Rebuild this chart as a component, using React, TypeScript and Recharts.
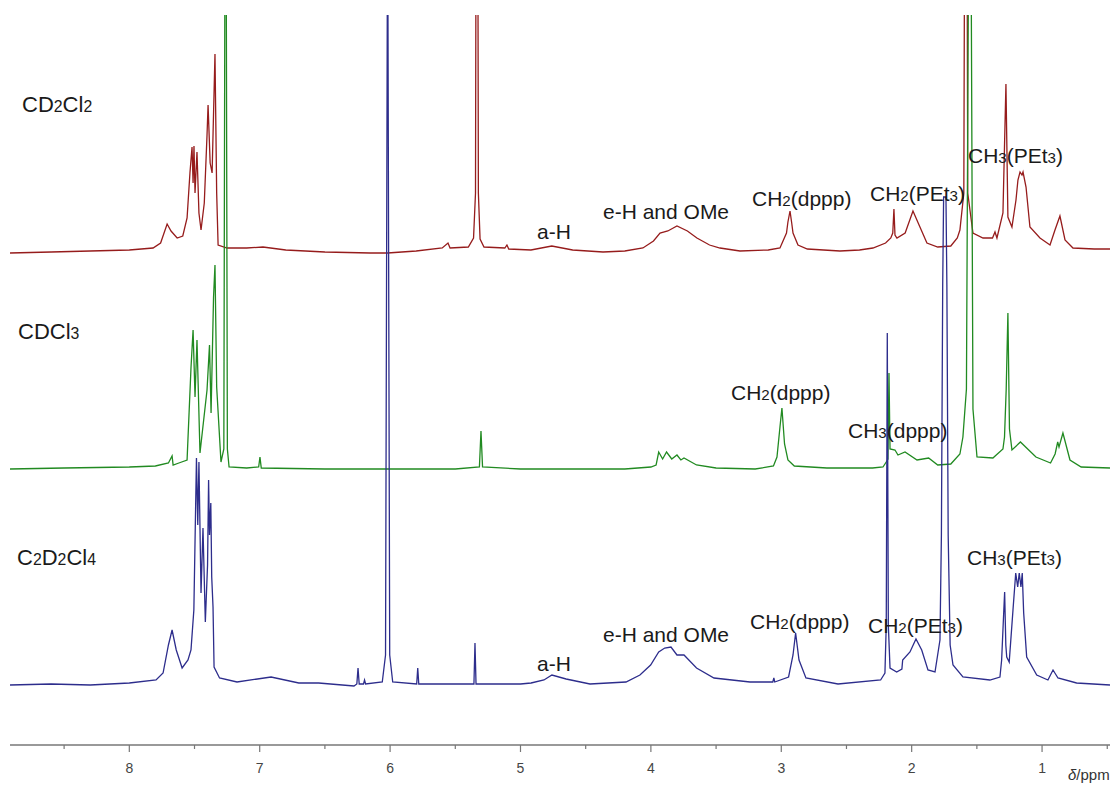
import React from 'react';
import { LineChart, Line, XAxis, YAxis } from 'recharts';

// chemical shift (ppm) / signal height, baseline = 0
const cd2cl2: [number, number][] = [
  [8.915, 0], [8.6, 1], [8.3, 2], [8.0, 3], [7.818, 5], [7.76, 10], [7.71, 29], [7.68, 22],
  [7.633, 15], [7.59, 17], [7.557, 35], [7.535, 80], [7.519, 106], [7.511, 70], [7.504, 107],
  [7.496, 60], [7.481, 101], [7.466, 40], [7.45, 23], [7.425, 50], [7.404, 118], [7.396, 148],
  [7.38, 90], [7.365, 80], [7.343, 199], [7.33, 60], [7.319, 8], [7.25, 5], [7.1, 5],
  [6.975, 6], [6.8, 3], [6.5, 1], [6.154, 0], [6.02, 0], [5.8, 2], [5.6, 5], [5.556, 10],
  [5.54, 5], [5.4, 6], [5.36, 15], [5.345, 60], [5.334, 800], [5.323, 60], [5.31, 14],
  [5.28, 6], [5.12, 5], [5.104, 8], [5.09, 4], [4.92, 3], [4.76, 7], [4.6, 3], [4.367, 1],
  [4.2, 2], [4.061, 5], [3.98, 12], [3.93, 20], [3.87, 22], [3.8, 27], [3.72, 22],
  [3.647, 15], [3.55, 8], [3.47, 5], [3.317, 2], [3.1, 3], [3.01, 5], [2.96, 20],
  [2.949, 31], [2.933, 42], [2.92, 30], [2.91, 20], [2.872, 8], [2.8, 4], [2.55, 2],
  [2.4, 3], [2.297, 5], [2.2, 10], [2.16, 15], [2.145, 20], [2.136, 44], [2.128, 18],
  [2.113, 15], [2.05, 20], [1.99, 42], [1.95, 30], [1.883, 10], [1.8, 6], [1.7, 7],
  [1.65, 15], [1.63, 23], [1.6, 60], [1.584, 800], [1.57, 60], [1.53, 20], [1.453, 15],
  [1.38, 15], [1.361, 21], [1.346, 15], [1.3, 40], [1.277, 169], [1.262, 36], [1.231, 26],
  [1.2, 53], [1.185, 73], [1.169, 81], [1.154, 78], [1.146, 81], [1.123, 66], [1.093, 26],
  [1.016, 15], [0.939, 8], [0.901, 23], [0.863, 37], [0.824, 13], [0.763, 5], [0.6, 4],
  [0.479, 4],
];

const cdcl3: [number, number][] = [
  [8.915, 0], [8.5, 1], [8.0, 2], [7.8, 3], [7.7, 6], [7.672, 13], [7.664, 4], [7.62, 6],
  [7.557, 9], [7.527, 101], [7.511, 139], [7.496, 72], [7.481, 129], [7.458, 16],
  [7.404, 79], [7.385, 124], [7.373, 56], [7.354, 172], [7.343, 204], [7.33, 82],
  [7.297, 7], [7.275, 20], [7.262, 800], [7.248, 20], [7.235, 2], [7.1, 1], [7.008, 2],
  [6.998, 12], [6.988, 1], [6.5, 0], [6.0, 0], [5.5, 0], [5.315, 2], [5.303, 38],
  [5.291, 2], [5.0, 0], [4.5, 0], [4.2, 0], [4.0, 2], [3.96, 4], [3.94, 17], [3.91, 10],
  [3.88, 17], [3.84, 10], [3.8, 14], [3.77, 9], [3.746, 11], [3.65, 4], [3.5, 1],
  [3.2, 0], [3.06, 3], [3.033, 12], [3.01, 42], [2.995, 61], [2.975, 25], [2.949, 9],
  [2.9, 3], [2.65, 1], [2.3, 1], [2.22, 2], [2.19, 8], [2.182, 10], [2.174, 96],
  [2.166, 20], [2.128, 19], [2.105, 14], [2.051, 17], [1.959, 9], [1.87, 11], [1.8, 4],
  [1.7, 5], [1.63, 15], [1.607, 32], [1.58, 80], [1.553, 800], [1.53, 60], [1.499, 12],
  [1.377, 11], [1.3, 20], [1.288, 32], [1.275, 80], [1.262, 156], [1.25, 40], [1.231, 19],
  [1.166, 27], [1.047, 12], [0.935, 6], [0.9, 15], [0.88, 27], [0.87, 22], [0.84, 36],
  [0.786, 9], [0.7, 2], [0.479, 1],
];

const c2d2cl4: [number, number][] = [
  [8.915, 0], [8.6, 1], [8.3, 0], [8.0, 2], [7.795, 5], [7.741, 12], [7.7, 40],
  [7.672, 55], [7.64, 35], [7.595, 17], [7.55, 25], [7.527, 35], [7.505, 75],
  [7.485, 227], [7.475, 160], [7.466, 223], [7.45, 92], [7.435, 157], [7.417, 63],
  [7.4, 120], [7.392, 205], [7.385, 150], [7.375, 182], [7.368, 108], [7.358, 78],
  [7.35, 18], [7.308, 7], [7.174, 3], [6.913, 8], [6.7, 2], [6.548, 2], [6.277, -1],
  [6.255, 1], [6.246, 17], [6.237, 1], [6.204, 1], [6.196, 5], [6.188, 1], [6.06, 3],
  [6.035, 30], [6.019, 800], [6.003, 30], [5.98, 3], [5.796, 1], [5.788, 17], [5.78, 1],
  [5.357, 1], [5.349, 42], [5.341, 1], [5.0, 1], [4.919, 2], [4.82, 5], [4.759, 10],
  [4.65, 6], [4.467, 1], [4.191, 3], [4.084, 10], [4.002, 20], [3.94, 33], [3.894, 37],
  [3.846, 38], [3.8, 30], [3.746, 30], [3.65, 17], [3.516, 7], [3.24, 3], [3.065, 3],
  [3.057, 7], [3.05, 3], [2.944, 8], [2.91, 30], [2.89, 52], [2.864, 25], [2.811, 7],
  [2.565, 1], [2.238, 5], [2.205, 12], [2.195, 60], [2.187, 352], [2.179, 60],
  [2.166, 17], [2.115, 13], [2.075, 16], [2.069, 25], [2.013, 33], [1.967, 46],
  [1.923, 35], [1.875, 15], [1.821, 13], [1.783, 45], [1.772, 150], [1.762, 400],
  [1.755, 488], [1.737, 488], [1.73, 400], [1.72, 150], [1.705, 40], [1.683, 20], [1.607, 8],
  [1.4, 5], [1.323, 8], [1.31, 25], [1.295, 70], [1.287, 93], [1.278, 40], [1.271, 28],
  [1.252, 23], [1.223, 75], [1.202, 112], [1.187, 98], [1.175, 112], [1.162, 98],
  [1.152, 112], [1.141, 72], [1.118, 28], [1.041, 10], [0.955, 5], [0.916, 15],
  [0.878, 7], [0.735, 2], [0.479, 0],
];

const solventNames = [
  ['CD', '2', 'Cl', '2'],
  ['CDCl', '3'],
  ['C', '2', 'D', '2', 'Cl', '4'],
];

const ppmTicks = [0.5, 1, 1.5, 2, 2.5, 3, 3.5, 4, 4.5, 5, 5.5, 6, 6.5, 7, 7.5, 8, 8.5];

const font = '"Liberation Sans", Arial, sans-serif';
const narrow = '"Liberation Sans Narrow", "Liberation Sans", Arial, sans-serif';

// alternating parts: normal, small digit, normal, ...
const Formula = ({ parts }: { parts: string[] }) => (
  <>
    {parts.map((p, i) =>
      i % 2 === 1 ? (
        <span key={i} style={{ fontSize: '0.72em' }}>{p}</span>
      ) : (
        <span key={i}>{p}</span>
      ),
    )}
  </>
);

const labels: { parts: string[]; x: number; cy: number; size: number }[] = [
  { parts: solventNames[0], x: 22, cy: 105, size: 22 },
  { parts: solventNames[1], x: 18, cy: 332, size: 22 },
  { parts: solventNames[2], x: 17, cy: 558, size: 22 },
  { parts: ['a-H'], x: 537, cy: 231, size: 21 },
  { parts: ['e-H and OMe'], x: 603, cy: 211, size: 21 },
  { parts: ['CH', '2', '(dppp)'], x: 752, cy: 198, size: 21 },
  { parts: ['CH', '2', '(PEt', '3', ')'], x: 870, cy: 193, size: 21 },
  { parts: ['CH', '3', '(PEt', '3', ')'], x: 968, cy: 155, size: 21 },
  { parts: ['CH', '2', '(dppp)'], x: 731, cy: 392, size: 21 },
  { parts: ['CH', '3', '(dppp)'], x: 848, cy: 430, size: 21 },
  { parts: ['a-H'], x: 537, cy: 663, size: 21 },
  { parts: ['e-H and OMe'], x: 603, cy: 634, size: 21 },
  { parts: ['CH', '2', '(dppp)'], x: 750, cy: 621, size: 21 },
  { parts: ['CH', '2', '(PEt', '3', ')'], x: 868, cy: 625, size: 21 },
  { parts: ['CH', '3', '(PEt', '3', ')'], x: 967, cy: 557, size: 21 },
];

const toSeries = (pts: [number, number][], offset: number) =>
  pts.map(([ppm, h]) => ({ ppm, v: offset + h }));

const PpmTick = (props: any) => {
  const { x, y, payload } = props;
  const major = Number.isInteger(payload.value);
  return (
    <g>
      <line x1={x} y1={y} x2={x} y2={y + (major ? 7 : 4)} stroke="#777" strokeWidth={1.2} />
      {major && (
        <text x={x} y={y + 28} textAnchor="middle" fontSize={14} fill="#444" fontFamily={narrow}>
          {payload.value}
        </text>
      )}
    </g>
  );
};

const App: React.FC = () => (
  <div style={{ position: 'absolute', left: 0, top: 0, width: 1110, height: 785, background: '#fff', overflow: 'hidden' }}>
    <LineChart width={1110} height={785} margin={{ top: 15, right: 0, left: 10, bottom: 0 }}>
      <XAxis dataKey="ppm" type="number" domain={[0.479, 8.915]} reversed allowDataOverflow
        ticks={ppmTicks} interval={0} tickSize={0} tickMargin={0} tickLine={false}
        tick={<PpmTick />} height={40} axisLine={{ stroke: '#777', strokeWidth: 1.5 }} />
      <YAxis type="number" domain={[0, 730]} allowDataOverflow hide />
      <Line data={toSeries(cd2cl2, 492)} dataKey="v" type="linear" dot={false}
        stroke="#961c1c" strokeWidth={1.3} isAnimationActive={false} />
      <Line data={toSeries(cdcl3, 276)} dataKey="v" type="linear" dot={false}
        stroke="#218a21" strokeWidth={1.3} isAnimationActive={false} />
      <Line data={toSeries(c2d2cl4, 60)} dataKey="v" type="linear" dot={false}
        stroke="#2d2d8c" strokeWidth={1.3} isAnimationActive={false} />
    </LineChart>
    {labels.map((l, i) => (
      <div key={i} style={{
        position: 'absolute', left: l.x, top: l.cy - l.size * 0.49, fontSize: l.size,
        lineHeight: 1, fontFamily: font, color: '#1a1a1a', whiteSpace: 'nowrap',
      }}>
        <Formula parts={l.parts} />
      </div>
    ))}
    <div style={{
      position: 'absolute', left: 1068, top: 767, fontSize: 15, lineHeight: 1,
      fontFamily: narrow, color: '#333', whiteSpace: 'nowrap',
    }}>
      <i>δ</i>/ppm
    </div>
  </div>
);

export default App;
